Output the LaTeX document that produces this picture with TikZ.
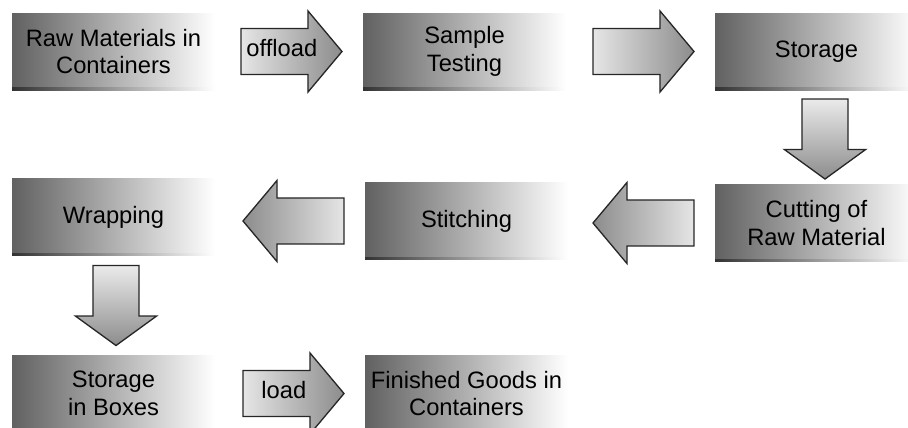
\documentclass[tikz,border=0pt]{standalone}
\usepackage{fontspec}
\setmainfont{Liberation Sans}
\usetikzlibrary{positioning}
\usetikzlibrary{shapes.arrows}

\tikzset{
  procbox/.style={rectangle, minimum width=4.06cm, minimum height=1.54cm, inner sep=0pt,
    align=center, left color=black!62, right color=white, font=\fontsize{13.5}{15.8}\selectfont,
    path picture={\shade[left color=black!80, right color=white]
      ([yshift=1.4pt]path picture bounding box.south west) rectangle (path picture bounding box.south east);}},
  blockarrow/.style={single arrow, draw=black!85, line width=0.75pt, minimum height=2.02cm,
    single arrow head extend=0.35cm, single arrow tip angle=100,
    text height=9pt, text depth=3pt, inner ysep=6.75pt, inner xsep=1pt,
    font=\fontsize{13.5}{15.8}\selectfont},
  rightarrow/.style={blockarrow, left color=black!10, right color=black!45},
  leftarrow/.style={blockarrow, shape border rotate=180, left color=black!45, right color=black!10},
  downarrow/.style={blockarrow, shape border rotate=270, minimum height=1.6cm,
    single arrow tip angle=108, inner xsep=12.75pt, top color=black!8, bottom color=black!45}
}

\begin{document}
\begin{tikzpicture}
                \clip (0,0) rectangle (18.16,-8.54);
                \node[procbox] (raw) at (2.27,-1.03) {Raw Materials in\\Containers};
                \node[procbox] (sample) at (9.29,-1.03) {Sample\\Testing};
                \node[procbox] (storage) at (16.33,-1.03) {Storage};
                \node[procbox] (cutting) at (16.33,-4.46) {Cutting of\\Raw Material};
                \node[procbox] (stitching) at (9.33,-4.42) {Stitching};
                \node[procbox] (wrapping) at (2.27,-4.34) {Wrapping};
                \node[procbox] (boxstore) at (2.27,-7.87) {Storage\\in Boxes};
                \node[procbox] (finished) at (9.33,-7.87) {Finished Goods in\\Containers};

                \node[rightarrow, right=0.5cm of raw] (offload) {offload};
                \node[rightarrow, right=0.52cm of sample] (tostorage) {};
                \node[downarrow, below=0.16cm of storage, xshift=0.17cm] (tocutting) {};
                \node[leftarrow, left=0.4cm of cutting] (tostitching) {};
                \node[leftarrow, left=0.4cm of stitching] (towrapping) {};
                \node[downarrow, below=0.18cm of wrapping, xshift=0.05cm] (toboxes) {};
                \node[rightarrow, right=0.54cm of boxstore] (load) {load};

            \end{tikzpicture}
\end{document}
